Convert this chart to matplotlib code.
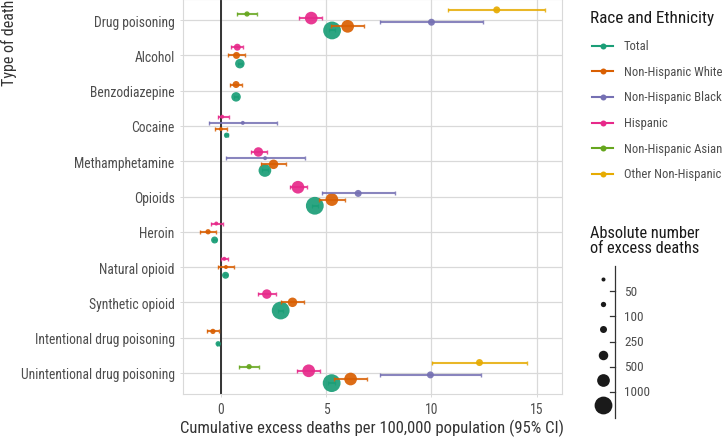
import numpy as np
import matplotlib
matplotlib.use("Agg")
import matplotlib.pyplot as plt
from matplotlib import font_manager

# pick a narrow sans if we have one
names = set(f.name for f in font_manager.fontManager.ttflist)
family = "DejaVu Sans"
for cand in ["Liberation Sans Narrow", "Roboto Condensed", "Roboto", "Liberation Sans"]:
    if cand in names:
        family = cand
        break
plt.rcParams["font.family"] = family

nan = np.nan

categories = ["Drug poisoning", "Alcohol", "Benzodiazepine", "Cocaine", "Methamphetamine",
              "Opioids", "Heroin", "Natural opioid", "Synthetic opioid",
              "Intentional drug poisoning", "Unintentional drug poisoning"]

groups = ["Total", "Non-Hispanic White", "Non-Hispanic Black", "Hispanic",
          "Non-Hispanic Asian", "Other Non-Hispanic"]
colors = ["#1B9E77", "#D95F02", "#7570B3", "#E7298A", "#66A61E", "#E6AB02"]

total_est = [5.28, 0.90, 0.72, 0.27, 2.09, 4.46, -0.30, 0.22, 2.84, -0.13, 5.26]
total_lo = [5.12, 0.82, 0.64, 0.19, 1.96, 4.32, -0.37, 0.15, 2.72, -0.19, 5.10]
total_hi = [5.44, 0.98, 0.80, 0.35, 2.22, 4.60, -0.23, 0.29, 2.96, -0.07, 5.42]
total_n = [1450, 320, 270, 90, 720, 1220, 200, 160, 1050, 60, 1430]

white_est = [6.02, 0.74, 0.72, 0.00, 2.50, 5.27, -0.61, 0.24, 3.40, -0.38, 6.16]
white_lo = [5.25, 0.36, 0.45, -0.30, 1.89, 4.65, -1.01, -0.13, 2.87, -0.66, 5.36]
white_hi = [6.80, 1.16, 1.02, 0.31, 3.11, 5.90, -0.22, 0.60, 3.94, -0.08, 6.96]
white_n = [780, 130, 120, 5, 300, 660, 80, 40, 400, 60, 770]

black_est = [10.0, nan, nan, 1.04, 2.10, 6.52, nan, nan, nan, nan, 9.95]
black_lo = [7.56, nan, nan, -0.58, 0.23, 4.78, nan, nan, nan, nan, 7.55]
black_hi = [12.43, nan, nan, 2.66, 3.98, 8.27, nan, nan, nan, nan, 12.36]
black_n = [150, nan, nan, 20, 25, 110, nan, nan, nan, nan, 150]

hisp_est = [4.29, 0.78, nan, 0.06, 1.78, 3.66, -0.22, 0.16, 2.18, nan, 4.17]
hisp_lo = [3.70, 0.50, nan, -0.14, 1.41, 3.27, -0.49, 0.00, 1.77, nan, 3.63]
hisp_hi = [4.81, 1.07, nan, 0.39, 2.20, 4.08, 0.08, 0.36, 2.61, nan, 4.70]
hisp_n = [560, 140, nan, 10, 330, 510, 30, 20, 300, nan, 550]

asian_est = [1.24, nan, nan, nan, nan, nan, nan, nan, nan, nan, 1.34]
asian_lo = [0.75, nan, nan, nan, nan, nan, nan, nan, nan, nan, 0.88]
asian_hi = [1.73, nan, nan, nan, nan, nan, nan, nan, nan, nan, 1.79]
asian_n = [70, nan, nan, nan, nan, nan, nan, nan, nan, nan, 75]

other_est = [13.1, nan, nan, nan, nan, nan, nan, nan, nan, nan, 12.28]
other_lo = [10.8, nan, nan, nan, nan, nan, nan, nan, nan, nan, 10.03]
other_hi = [15.4, nan, nan, nan, nan, nan, nan, nan, nan, nan, 14.53]
other_n = [130, nan, nan, nan, nan, nan, nan, nan, nan, nan, 120]

size_breaks = [50, 100, 250, 500, 1000]

est = np.array([total_est, white_est, black_est, hisp_est, asian_est, other_est])
lo = np.array([total_lo, white_lo, black_lo, hisp_lo, asian_lo, other_lo])
hi = np.array([total_hi, white_hi, black_hi, hisp_hi, asian_hi, other_hi])
cnt = np.array([total_n, white_n, black_n, hisp_n, asian_n, other_n])

# binned sizes, diameters in px (dpi 100)
bin_diam = np.array([4.0, 5.3, 7.0, 9.5, 12.7, 17.8])
def marker_area(n):
    b = np.digitize(n, size_breaks)
    return (bin_diam[b] * 0.72) ** 2

W, H = 726, 439
fig = plt.figure(figsize=(W / 100, H / 100), dpi=100)
ax = fig.add_axes([183 / W, 1 - 395 / H, (562 - 183) / W, 395 / H])

dodge = 0.7
# dodge order top to bottom is reverse of group order
order = [5, 4, 3, 2, 1, 0]
pos = np.full(est.shape, nan)
for i in range(len(categories)):
    present = [g for g in order if not np.isnan(est[g, i])]
    n = len(present)
    for k, g in enumerate(present):
        pos[g, i] = i + (k - (n - 1) / 2) * dodge / n

ax.axvline(0, color="#333333", lw=1.4, zorder=1)
for g in range(len(groups)):
    m = ~np.isnan(est[g])
    ax.errorbar(est[g][m], pos[g][m], xerr=[est[g][m] - lo[g][m], hi[g][m] - est[g][m]],
                fmt="none", ecolor=colors[g], elinewidth=1.5, capsize=1.6, capthick=1,
                alpha=0.85, zorder=2 + g)
    ax.scatter(est[g][m], pos[g][m], s=marker_area(cnt[g][m]), color=colors[g],
               alpha=0.92, linewidths=0, zorder=2.5 + g)

ax.set_xlim(-1.8, 16.2)
ax.set_ylim(len(categories) - 0.4, -0.6)
ax.set_yticks(range(len(categories)))
ax.set_yticklabels(categories)
ax.set_xticks([0, 5, 10, 15])
ax.grid(True, color="#d9d9d9", lw=0.9)
ax.set_axisbelow(True)
for s in ax.spines.values():
    s.set_color("#d9d9d9")
    s.set_linewidth(0.8)
ax.tick_params(axis="both", colors="#4d4d4d", labelsize=9.8, length=2.5, width=0.7)
ax.tick_params(axis="both", color="#d9d9d9")
ax.set_xlabel("Cumulative excess deaths per 100,000 population (95% CI)",
              fontsize=12, color="#333333", labelpad=2)
fig.text(9 / W, 1.0, "Type of death", rotation=90, ha="center", va="top",
         fontsize=11.5, color="#333333")

# legends drawn in a pixel-space overlay
lax = fig.add_axes([0, 0, 1, 1])
lax.set_xlim(0, W)
lax.set_ylim(H, 0)
lax.axis("off")

lax.text(590, 18, "Race and Ethnicity", fontsize=12.3, color="#1a1a1a", va="center")
for k, g in enumerate(groups):
    yy = 46.7 + 25.6 * k
    lax.plot([592, 613], [yy, yy], color=colors[k], lw=1.5)
    lax.scatter([602.5], [yy], s=(6 * 0.72) ** 2, color=colors[k], linewidths=0)
    lax.text(624, yy, g, fontsize=9.1, color="#4d4d4d", va="center")

lax.text(590, 241, "Absolute number\nof excess deaths", fontsize=11.8, color="#1a1a1a",
         va="center", linespacing=1.05)
lax.plot([615, 615], [267, 419], color="#333333", lw=0.9)
for k, b in enumerate(size_breaks):
    ty = 292.3 + 25.1 * k
    lax.plot([610, 615], [ty, ty], color="#333333", lw=0.9)
    lax.text(624, ty, str(b), fontsize=9.5, color="#4d4d4d", va="center")
for k in range(len(bin_diam)):
    lax.scatter([602.5], [279.5 + 25.4 * k], s=(bin_diam[k] * 0.72) ** 2,
                color="#1a1a1a", linewidths=0)

fig.savefig("out.png", dpi=100)
